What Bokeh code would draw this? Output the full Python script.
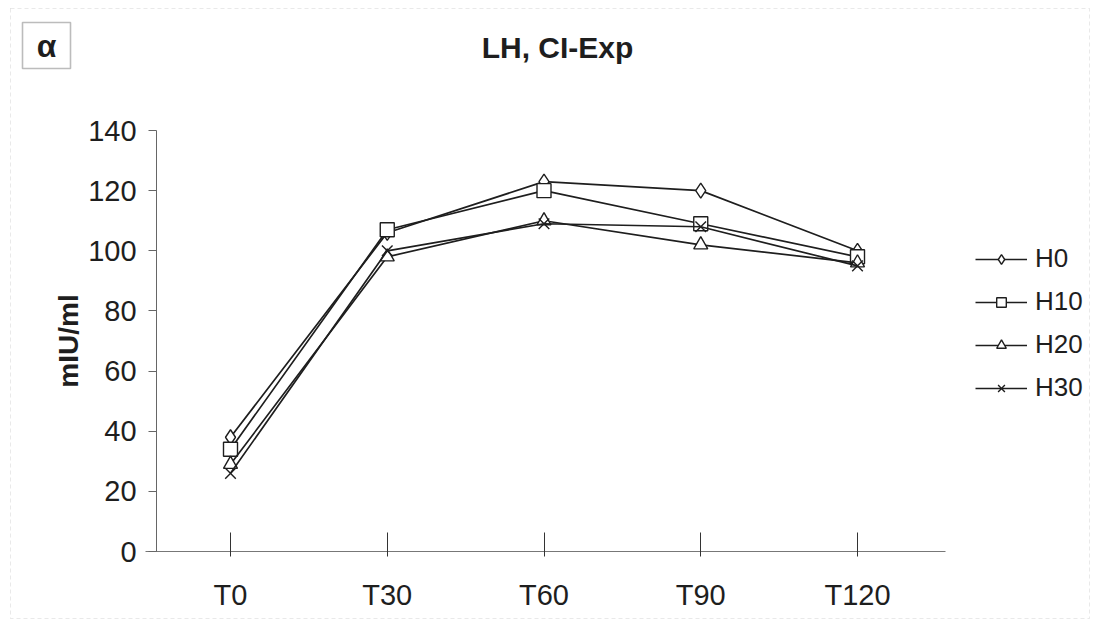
from bokeh.plotting import figure
from bokeh.models import Range1d, Legend, LegendItem, Label, FixedTicker, BoxAnnotation
from bokeh.embed import file_html
from bokeh.resources import INLINE

# ---- data ----
times = ["T0", "T30", "T60", "T90", "T120"]
h0 = [38, 106, 123, 120, 100]
h10 = [34, 107, 120, 109, 98]
h20 = [29, 98, 110, 102, 96]
h30 = [26, 100, 109, 108, 95]
series_names = ["H0", "H10", "H20", "H30"]
y_ticks = [0, 20, 40, 60, 80, 100, 120, 140]
title_text = "LH, CI-Exp"
y_label = "mIU/ml"
panel_tag = "α"

FONT = "Liberation Sans"
INK = "#1e1e1e"

xpos = list(range(len(times)))

# frame fills the whole canvas; axes are drawn at fixed locations inside it
p = figure(frame_width=1091, frame_height=619,
           x_range=Range1d(-1.4673, 5.4928), y_range=Range1d(-22.61, 183.24),
           output_backend="svg", toolbar_location=None, min_border=0)
p.title.visible = False
p.outline_line_color = None
p.xgrid.visible = False
p.ygrid.visible = False
p.background_fill_color = "white"
p.border_fill_color = "white"

# y axis
p.yaxis.fixed_location = -0.472
p.yaxis.bounds = (0, 140)
p.yaxis.ticker = FixedTicker(ticks=y_ticks)
p.yaxis.minor_tick_line_color = None
p.yaxis.major_tick_in = 0
p.yaxis.major_tick_out = 8
p.yaxis.axis_line_color = "#666666"
p.yaxis.major_tick_line_color = "#666666"
p.yaxis.major_label_text_font = FONT
p.yaxis.major_label_text_font_size = "29px"
p.yaxis.major_label_text_color = INK
p.yaxis.major_label_standoff = 12
p.yaxis.axis_label = y_label
p.yaxis.axis_label_text_font = FONT
p.yaxis.axis_label_text_font_size = "28px"
p.yaxis.axis_label_text_font_style = "bold"
p.yaxis.axis_label_text_color = INK
p.yaxis.axis_label_standoff = 1

# x axis
p.xaxis.fixed_location = 0
p.xaxis.bounds = (-0.54, 4.56)
p.xaxis.ticker = FixedTicker(ticks=xpos)
p.xaxis.major_label_overrides = {i: t for i, t in zip(xpos, times)}
p.xaxis.minor_tick_line_color = None
p.xaxis.major_tick_in = 19
p.xaxis.major_tick_out = 5
p.xaxis.axis_line_color = "#777777"
p.xaxis.major_tick_line_color = "#333333"
p.xaxis.major_label_text_font = FONT
p.xaxis.major_label_text_font_size = "29px"
p.xaxis.major_label_text_color = INK
p.xaxis.major_label_standoff = 22

markers = ["diamond", "square", "triangle", "x"]
sizes = [15, 14, 14, 15]
all_vals = [h0, h10, h20, h30]
items = []
for name, vals, mk, sz in zip(series_names, all_vals, markers, sizes):
    ln = p.line(xpos, vals, line_color=INK, line_width=1.7)
    sc = p.scatter(xpos, vals, marker=mk, size=sz, fill_color="white",
                   line_color=INK, line_width=1.4)
    items.append(LegendItem(label=name, renderers=[ln, sc]))

legend = Legend(items=items, location=(975, 216), margin=0, padding=0,
                border_line_color=None, background_fill_alpha=0,
                glyph_width=52, glyph_height=24, label_height=30, spacing=12,
                label_standoff=8, label_text_font=FONT,
                label_text_font_size="26px", label_text_color=INK)
p.add_layout(legend, "center")

# outer faint dashed frame
p.add_layout(BoxAnnotation(left=10, right=1089, bottom=1, top=611,
                           left_units="screen", right_units="screen",
                           bottom_units="screen", top_units="screen",
                           fill_alpha=0, line_color="#b5b5b5", line_width=1,
                           line_dash="4 3"))

# panel tag box
p.add_layout(BoxAnnotation(left=22, right=70, bottom=551, top=597,
                           left_units="screen", right_units="screen",
                           bottom_units="screen", top_units="screen",
                           fill_color="white", fill_alpha=1,
                           line_color="#222222", line_width=1.6))
p.add_layout(Label(x=46, y=574, x_units="screen", y_units="screen",
                   text=panel_tag, text_font=FONT, text_font_size="32px",
                   text_font_style="bold", text_color=INK,
                   text_align="center", text_baseline="middle"))

# title
p.add_layout(Label(x=557, y=572, x_units="screen", y_units="screen",
                   text=title_text, text_font=FONT, text_font_size="30px",
                   text_font_style="bold", text_color=INK,
                   text_align="center", text_baseline="middle"))

open("out.html", "w").write(file_html(p, INLINE))
